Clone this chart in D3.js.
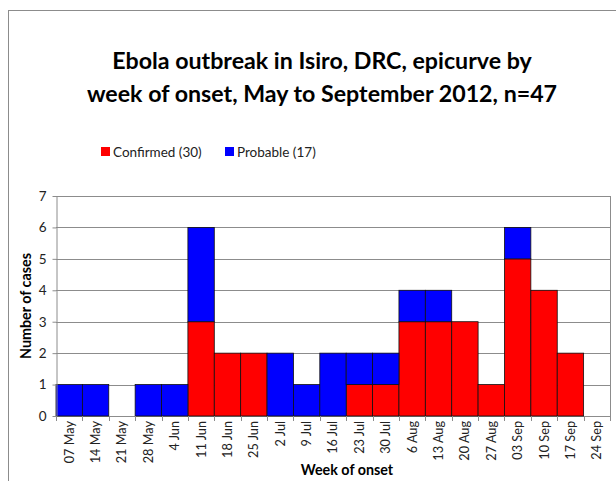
<!DOCTYPE html>
<html>
  <head>
    <meta charset="utf-8">
    <title>Ebola outbreak in Isiro epicurve</title>
    <script src="https://cdn.jsdelivr.net/npm/d3@7"></script>
    <style>
      body { margin: 0; background: #fff; }
      svg { display: block; font-family: Lato, "Open Sans", sans-serif; }
      .grid line { stroke: #8c8c8c; stroke-width: 1; }
      .axis path, .axis line { stroke: #8c8c8c; }
      .axis text { fill: #222; }
      .title { font-weight: bold; font-size: 23.2px; fill: #000; }
      .axisTitle { font-weight: bold; font-size: 14.3px; fill: #000; }
      .legend text { font-size: 13.5px; fill: #222; }
    </style>
  </head>
  <body>
    <svg id="chart" width="616" height="481">
      <rect id="frame"></rect>
      <g id="gridGroup" class="grid"></g>
      <g id="chartGroup"></g>
      <g id="xAxisGroup" class="axis"></g>
      <g id="yAxisGroup" class="axis"></g>
      <g id="legendGroup" class="legend"></g>
      <g id="textGroup"></g>
    </svg>

    <script>
      // data
      weeks = ["07 May", "14 May", "21 May", "28 May", "4 Jun", "11 Jun", "18 Jun", "25 Jun",
        "2 Jul", "9 Jul", "16 Jul", "23 Jul", "30 Jul", "6 Aug", "13 Aug", "20 Aug", "27 Aug",
        "03 Sep", "10 Sep", "17 Sep", "24 Sep"];
      confirmed = [0, 0, 0, 0, 0, 3, 2, 2, 0, 0, 0, 1, 1, 3, 3, 3, 1, 5, 4, 2, 0];
      probable = [1, 1, 0, 1, 1, 3, 0, 0, 2, 1, 2, 1, 1, 1, 1, 0, 0, 1, 0, 0, 0];
      seriesNames = ["Confirmed (30)", "Probable (17)"];
      seriesColours = ["#ff0000", "#0000ff"];
      yTicks = [0, 1, 2, 3, 4, 5, 6, 7];
      titleLines = ["Ebola outbreak in Isiro, DRC, epicurve by", "week of onset, May to September 2012, n=47"];

      // page elements
      chart = d3.select("#chart");
      chartGroup = d3.select("#chartGroup");
      gridGroup = d3.select("#gridGroup");
      xAxisGroup = d3.select("#xAxisGroup");
      yAxisGroup = d3.select("#yAxisGroup");
      legendGroup = d3.select("#legendGroup");
      textGroup = d3.select("#textGroup");

      margin = { top: 196, right: 6, bottom: 65, left: 56 };
      width = 616;
      height = 481;

      d3.select("#frame")
        .attr("x", 8.5)
        .attr("y", 10.5)
        .attr("width", 660)
        .attr("height", 520)
        .attr("fill", "none")
        .attr("stroke", "#8c8c8c");

      tableData = weeks.map(function(w, i) {
        return { week: w, confirmed: confirmed[i], probable: probable[i] };
      });

      x = d3.scaleBand()
        .domain(weeks)
        .range([margin.left, width - margin.right])
        .padding(0);
      y = d3.scaleLinear()
        .domain([0, 7])
        .range([height - margin.bottom, margin.top]);

      // gridlines
      gridGroup.selectAll("line")
        .data(yTicks)
        .enter().append("line")
          .attr("x1", margin.left)
          .attr("x2", width - margin.right)
          .attr("y1", function(d) { return Math.round(y(d)) + 0.5; })
          .attr("y2", function(d) { return Math.round(y(d)) + 0.5; });
      gridGroup.append("line")
        .attr("x1", width - margin.right + 0.5)
        .attr("x2", width - margin.right + 0.5)
        .attr("y1", y(7))
        .attr("y2", y(0));

      // stacked bars
      stack = d3.stack()
        .keys(["confirmed", "probable"]);
      layers = chartGroup.selectAll(".layer")
        .data(stack(tableData))
        .enter().append("g")
          .attr("fill", function(d, i) { return seriesColours[i]; });
      layers.selectAll("rect")
        .data(function(d) { return d.filter(function(s) { return s[1] > s[0]; }); })
        .enter().append("rect")
          .attr("x", function(d) { return x(d.data.week); })
          .attr("width", x.bandwidth())
          .attr("y", function(d) { return y(d[1]); })
          .attr("height", function(d) { return y(d[0]) - y(d[1]); })
          .attr("stroke", "#111")
          .attr("stroke-width", 0.8);

      // x axis: labels centred, ticks on category boundaries
      xAxis = d3.axisBottom(x)
        .tickSize(0)
        .tickPadding(6);
      xAxisGroup.attr("transform", "translate(0, " + y(0) + ")")
        .call(xAxis);
      xAxisGroup.select(".domain").remove();
      xAxisGroup.selectAll(".tick text")
        .attr("font-family", "Lato, sans-serif")
        .attr("font-size", 12.7)
        .attr("transform", "rotate(-90)")
        .attr("text-anchor", "end")
        .attr("x", -5)
        .attr("y", 0)
        .attr("dy", "0.35em");
      boundaries = weeks.map(function(w) { return x(w); }).concat([x.range()[1]]);
      xAxisGroup.selectAll(".boundary")
        .data(boundaries)
        .enter().append("line")
          .attr("class", "boundary")
          .attr("x1", function(d) { return Math.round(d) + 0.5; })
          .attr("x2", function(d) { return Math.round(d) + 0.5; })
          .attr("y1", 0)
          .attr("y2", 5);

      // y axis
      yAxis = d3.axisLeft(y)
        .tickValues(yTicks)
        .tickFormat(d3.format("d"))
        .tickSize(4)
        .tickPadding(6)
        .tickSizeOuter(0);
      yAxisGroup.attr("transform", "translate(" + (margin.left + 0.5) + ", 0)")
        .call(yAxis);
      yAxisGroup.selectAll(".tick text")
        .attr("font-family", "Lato, sans-serif")
        .attr("font-size", 13.5);

      // title
      textGroup.selectAll(".title")
        .data(titleLines)
        .enter().append("text")
          .attr("class", "title")
          .attr("text-anchor", "middle")
          .attr("x", 322)
          .attr("y", function(d, i) { return 69 + i * 33; })
          .text(function(d) { return d; });

      // axis titles
      textGroup.append("text")
        .attr("class", "axisTitle")
        .attr("text-anchor", "middle")
        .attr("transform", "translate(31, " + ((y(0) + y(7)) / 2) + ") rotate(-90)")
        .text("Number of cases");
      textGroup.append("text")
        .attr("class", "axisTitle")
        .attr("text-anchor", "middle")
        .attr("x", 347)
        .attr("y", 475)
        .text("Week of onset");

      // legend
      legendX = [101, 225];
      items = legendGroup.selectAll(".item")
        .data(seriesNames)
        .enter().append("g")
          .attr("transform", function(d, i) { return "translate(" + legendX[i] + ", 147)"; });
      items.append("rect")
        .attr("width", 9)
        .attr("height", 9)
        .attr("fill", function(d, i) { return seriesColours[i]; });
      items.append("text")
        .attr("x", 12)
        .attr("y", 9.5)
        .text(function(d) { return d; });
    </script>
  </body>
</html>
